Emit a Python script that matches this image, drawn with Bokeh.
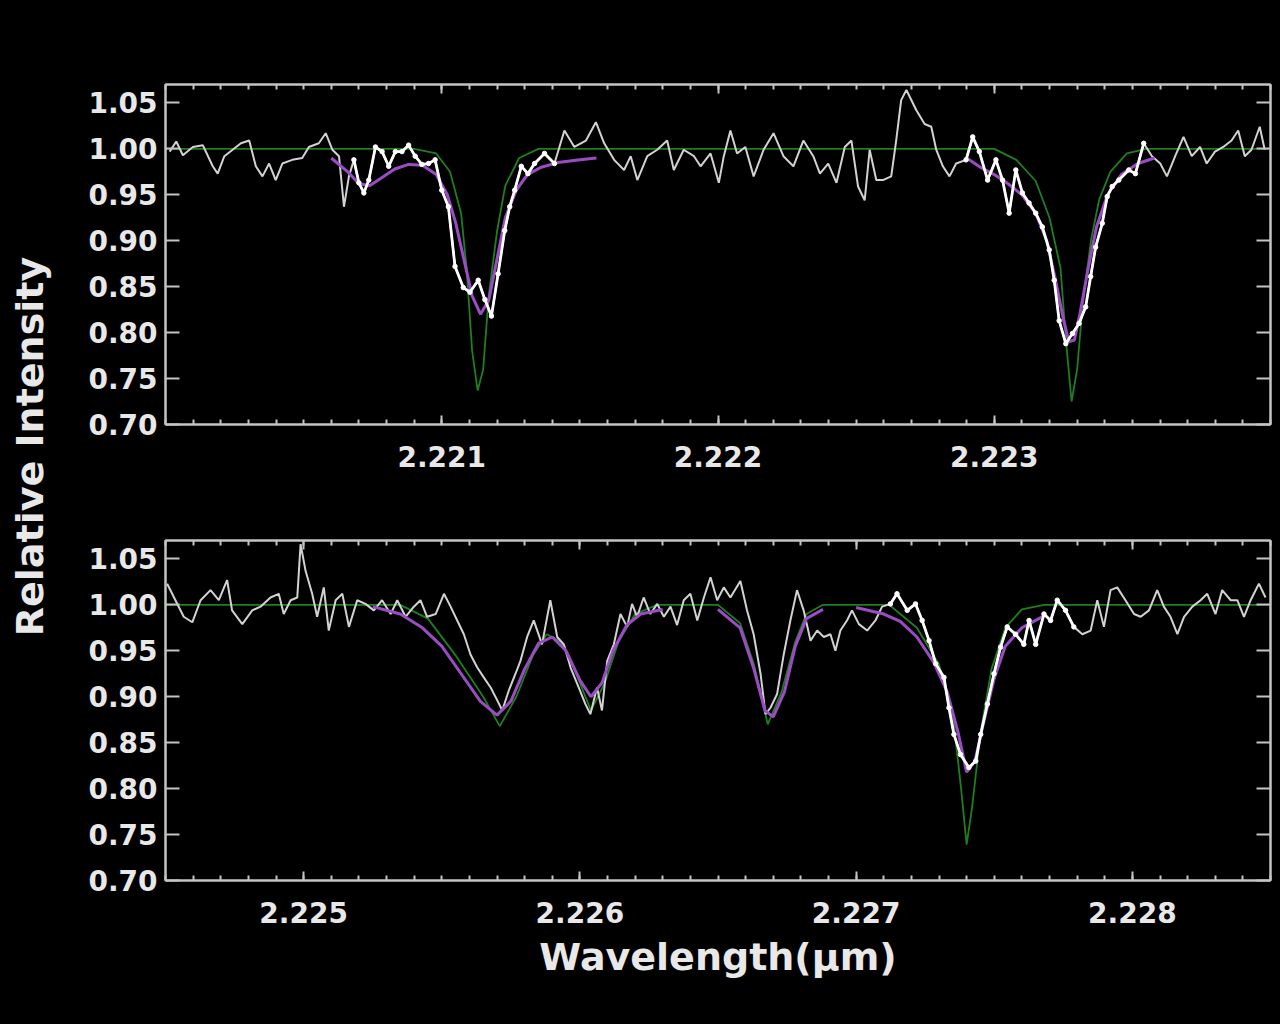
import numpy as np
from math import pi
from bokeh.plotting import figure
from bokeh.layouts import row, column
from bokeh.models import (FixedTicker, Range1d, LinearAxis, Label,
                          PrintfTickFormatter, CustomJSTickFormatter)
from bokeh.embed import file_html
from bokeh.resources import INLINE

# ---------------- data: top panel ----------------
top_wl = [2.220015, 2.220039, 2.220063, 2.220099, 2.220135, 2.220171, 2.220189, 2.220213,
          2.220243, 2.220273, 2.220303, 2.220327, 2.220351, 2.220375, 2.220399, 2.220423,
          2.220459, 2.220495, 2.220519, 2.220555, 2.220580, 2.220604, 2.220628, 2.220646,
          2.220664, 2.220682, 2.220700, 2.220718, 2.220736, 2.220760, 2.220784, 2.220808,
          2.220832, 2.220856, 2.220880, 2.220904, 2.220928, 2.220952, 2.220976, 2.221000,
          2.221024, 2.221048, 2.221078, 2.221102, 2.221132, 2.221156, 2.221180, 2.221204,
          2.221228, 2.221246, 2.221264, 2.221288, 2.221312, 2.221336, 2.221372, 2.221408,
          2.221444, 2.221480, 2.221522, 2.221558, 2.221588, 2.221624, 2.221660, 2.221684,
          2.221708, 2.221744, 2.221780, 2.221816, 2.221840, 2.221876, 2.221913, 2.221937,
          2.221973, 2.222003, 2.222021, 2.222045, 2.222069, 2.222099, 2.222129, 2.222165,
          2.222201, 2.222237, 2.222273, 2.222309, 2.222345, 2.222369, 2.222399, 2.222429,
          2.222459, 2.222483, 2.222507, 2.222531, 2.222549, 2.222573, 2.222597, 2.222627,
          2.222645, 2.222663, 2.222682, 2.222718, 2.222748, 2.222772, 2.222790, 2.222814,
          2.222838, 2.222862, 2.222898, 2.222922, 2.222946, 2.222976, 2.223006, 2.223030,
          2.223054, 2.223078, 2.223102, 2.223126, 2.223150, 2.223174, 2.223199, 2.223217,
          2.223235, 2.223259, 2.223283, 2.223307, 2.223331, 2.223349, 2.223367, 2.223391,
          2.223409, 2.223427, 2.223451, 2.223487, 2.223511, 2.223541, 2.223571, 2.223601,
          2.223625, 2.223655, 2.223685, 2.223715, 2.223745, 2.223769, 2.223799, 2.223829,
          2.223859, 2.223883, 2.223907, 2.223931, 2.223961, 2.223979]
top_flux = [0.997, 1.008, 0.993, 1.002, 1.004, 0.981, 0.973, 0.992,
            0.999, 1.006, 1.009, 0.981, 0.970, 0.984, 0.966, 0.984,
            0.988, 0.990, 1.002, 1.006, 1.017, 0.999, 0.992, 0.937,
            0.970, 0.988, 0.963, 0.952, 0.966, 1.002, 0.997, 0.981,
            0.997, 0.997, 1.004, 0.992, 0.983, 0.984, 0.988, 0.955,
            0.937, 0.872, 0.849, 0.844, 0.857, 0.836, 0.818, 0.864,
            0.911, 0.937, 0.955, 0.981, 0.973, 0.984, 0.995, 0.984,
            1.020, 1.002, 1.009, 1.029, 1.006, 0.988, 0.977, 0.992,
            0.966, 0.992, 0.999, 1.009, 0.977, 0.999, 0.992, 0.981,
            0.995, 0.963, 0.992, 1.020, 0.995, 1.002, 0.970, 0.999,
            1.017, 0.992, 0.981, 1.009, 0.992, 0.973, 0.984, 0.963,
            1.002, 1.009, 0.959, 0.944, 0.999, 0.966, 0.966, 0.970,
            1.009, 1.053, 1.064, 1.042, 1.027, 1.024, 0.999, 0.981,
            0.970, 0.984, 0.988, 1.013, 0.997, 0.966, 0.988, 0.966,
            0.930, 0.977, 0.952, 0.941, 0.930, 0.915, 0.890, 0.857,
            0.813, 0.788, 0.799, 0.810, 0.828, 0.861, 0.893, 0.919,
            0.948, 0.959, 0.966, 0.977, 0.973, 1.006, 0.992, 0.984,
            0.970, 0.992, 1.013, 0.992, 1.002, 0.984, 0.997, 1.002,
            1.009, 1.020, 0.992, 0.999, 1.024, 0.999]

top_model_wl = [2.2200, 2.22090, 2.22098, 2.22103, 2.22107, 2.22109, 2.22111, 2.22113,
                2.22115, 2.22117, 2.22120, 2.22123, 2.22128, 2.22135, 2.22300, 2.22308,
                2.22315, 2.22320, 2.22324, 2.22326, 2.22328, 2.22330, 2.22332, 2.22335,
                2.22338, 2.22342, 2.22348, 2.22355, 2.2240]
top_model = [1.000, 1.000, 0.995, 0.975, 0.930, 0.870, 0.780, 0.737,
             0.760, 0.840, 0.910, 0.960, 0.990, 1.000, 1.000, 0.988,
             0.965, 0.925, 0.870, 0.790, 0.725, 0.760, 0.830, 0.900,
             0.945, 0.975, 0.995, 1.000, 1.000]

top_fit1_wl = [2.22060, 2.22066, 2.22070, 2.22074, 2.22078, 2.22083, 2.22088, 2.22093,
               2.22098, 2.22102, 2.22105, 2.22108, 2.22111, 2.22114, 2.22117, 2.22120,
               2.22123, 2.22127, 2.22131, 2.22136, 2.22142, 2.22150, 2.22156]
top_fit1 = [0.990, 0.975, 0.962, 0.960, 0.968, 0.978, 0.983, 0.982,
            0.972, 0.950, 0.920, 0.880, 0.840, 0.820, 0.835, 0.880,
            0.925, 0.955, 0.972, 0.980, 0.985, 0.988, 0.990]
top_fit2_wl = [2.22290, 2.22295, 2.22300, 2.22305, 2.22310, 2.22315, 2.22319, 2.22322,
               2.22325, 2.22327, 2.22329, 2.22331, 2.22334, 2.22337, 2.22341, 2.22346,
               2.22352, 2.22358]
top_fit2 = [0.990, 0.980, 0.972, 0.962, 0.950, 0.930, 0.900, 0.860,
            0.815, 0.790, 0.792, 0.820, 0.870, 0.915, 0.950, 0.972,
            0.984, 0.990]
top_windows = [(2.22068, 2.22142), (2.22289, 2.22357)]

# ---------------- data: bottom panel ----------------
bot_wl = [2.224506, 2.224536, 2.224566, 2.224597, 2.224627, 2.224663, 2.224693, 2.224723,
          2.224741, 2.224778, 2.224814, 2.224844, 2.224880, 2.224910, 2.224928, 2.224953,
          2.224977, 2.224989, 2.225007, 2.225031, 2.225049, 2.225073, 2.225091, 2.225116,
          2.225140, 2.225164, 2.225194, 2.225224, 2.225254, 2.225284, 2.225315, 2.225339,
          2.225369, 2.225399, 2.225423, 2.225447, 2.225478, 2.225508, 2.225532, 2.225556,
          2.225580, 2.225604, 2.225628, 2.225652, 2.225677, 2.225701, 2.225719, 2.225743,
          2.225767, 2.225785, 2.225809, 2.225833, 2.225863, 2.225893, 2.225918, 2.225942,
          2.225966, 2.225996, 2.226020, 2.226038, 2.226062, 2.226080, 2.226099, 2.226123,
          2.226147, 2.226171, 2.226189, 2.226207, 2.226231, 2.226255, 2.226280, 2.226304,
          2.226328, 2.226352, 2.226376, 2.226400, 2.226425, 2.226449, 2.226473, 2.226497,
          2.226521, 2.226545, 2.226581, 2.226605, 2.226629, 2.226654, 2.226672, 2.226690,
          2.226714, 2.226738, 2.226762, 2.226786, 2.226810, 2.226835, 2.226859, 2.226883,
          2.226907, 2.226925, 2.226943, 2.226967, 2.226985, 2.227010, 2.227040, 2.227070,
          2.227094, 2.227124, 2.227148, 2.227185, 2.227215, 2.227239, 2.227264, 2.227288,
          2.227318, 2.227336, 2.227354, 2.227378, 2.227408, 2.227433, 2.227451, 2.227475,
          2.227499, 2.227523, 2.227547, 2.227577, 2.227607, 2.227626, 2.227650, 2.227680,
          2.227704, 2.227728, 2.227758, 2.227788, 2.227819, 2.227849, 2.227873, 2.227897,
          2.227921, 2.227945, 2.227975, 2.228006, 2.228030, 2.228060, 2.228090, 2.228114,
          2.228138, 2.228163, 2.228187, 2.228217, 2.228247, 2.228271, 2.228301, 2.228325,
          2.228356, 2.228380, 2.228404, 2.228428, 2.228458, 2.228482]
bot_flux = [1.023, 1.005, 0.987, 0.981, 1.005, 1.016, 1.005, 1.027,
            0.994, 0.979, 0.994, 0.998, 1.008, 1.012, 0.990, 1.005,
            1.008, 1.066, 1.037, 1.012, 0.987, 1.019, 0.972, 1.005,
            1.012, 0.976, 1.005, 1.001, 0.994, 1.005, 0.990, 1.005,
            0.987, 0.998, 1.005, 0.987, 0.990, 1.012, 0.998, 0.983,
            0.968, 0.946, 0.932, 0.921, 0.910, 0.896, 0.885, 0.907,
            0.925, 0.939, 0.965, 0.983, 0.957, 1.005, 0.965, 0.957,
            0.932, 0.910, 0.892, 0.881, 0.910, 0.885, 0.939, 0.957,
            0.990, 0.976, 1.001, 0.987, 1.008, 0.990, 1.001, 0.987,
            0.998, 0.978, 1.005, 1.012, 0.983, 1.008, 1.030, 1.005,
            1.019, 1.008, 1.026, 0.994, 0.968, 0.925, 0.881, 0.888,
            0.903, 0.946, 0.983, 1.016, 0.994, 0.961, 0.972, 0.965,
            0.968, 0.950, 0.972, 0.983, 0.994, 0.979, 0.972, 0.983,
            0.998, 1.001, 1.012, 0.994, 1.001, 0.983, 0.961, 0.936,
            0.921, 0.888, 0.859, 0.837, 0.823, 0.830, 0.859, 0.892,
            0.925, 0.954, 0.976, 0.968, 0.957, 0.983, 0.957, 0.990,
            0.983, 1.005, 0.994, 0.976, 0.968, 0.972, 1.005, 0.976,
            1.016, 1.019, 1.005, 0.990, 0.987, 0.994, 1.016, 0.998,
            0.987, 0.968, 0.987, 0.998, 1.005, 1.012, 0.990, 1.016,
            1.005, 1.005, 0.987, 1.005, 1.023, 1.008]

bot_model_wl = [2.2245, 2.22535, 2.22545, 2.22555, 2.22565, 2.22571, 2.22577, 2.22583,
                2.22588, 2.22593, 2.22598, 2.22604, 2.22609, 2.22614, 2.22620, 2.22628,
                2.22650, 2.22658, 2.22663, 2.22668, 2.22673, 2.22678, 2.22682, 2.22688,
                2.22712, 2.22722, 2.22730, 2.22735, 2.22738, 2.22740, 2.22742, 2.22745,
                2.22749, 2.22754, 2.22760, 2.22768, 2.2285]
bot_model = [1.000, 1.000, 0.985, 0.945, 0.900, 0.868, 0.900, 0.945,
             0.968, 0.960, 0.930, 0.885, 0.915, 0.960, 0.990, 1.000,
             1.000, 0.980, 0.935, 0.870, 0.905, 0.960, 0.990, 1.000,
             1.000, 0.975, 0.935, 0.880, 0.800, 0.739, 0.780, 0.860,
             0.930, 0.975, 0.995, 1.000, 1.000]

bot_fit1_wl = [2.22525, 2.22535, 2.22543, 2.22550, 2.22557, 2.22564, 2.22570, 2.22575,
               2.22580, 2.22585, 2.22590, 2.22595, 2.22600, 2.22604, 2.22608, 2.22612,
               2.22617, 2.22622, 2.22630]
bot_fit1 = [0.998, 0.990, 0.975, 0.955, 0.925, 0.895, 0.880, 0.895,
            0.930, 0.958, 0.965, 0.950, 0.918, 0.900, 0.915, 0.950,
            0.978, 0.990, 0.995]
bot_fit2_wl = [2.22650, 2.22658, 2.22663, 2.22667, 2.22670, 2.22674, 2.22678, 2.22682,
               2.22688]
bot_fit2 = [0.995, 0.975, 0.930, 0.885, 0.878, 0.905, 0.955, 0.985, 0.995]
bot_fit3_wl = [2.22700, 2.22710, 2.22716, 2.22722, 2.22728, 2.22733, 2.22737, 2.22740,
               2.22743, 2.22746, 2.22750, 2.22754, 2.22760, 2.22768]
bot_fit3 = [0.997, 0.990, 0.982, 0.965, 0.938, 0.905, 0.860, 0.818,
            0.830, 0.870, 0.920, 0.955, 0.975, 0.988]
bot_windows = [(2.22710, 2.22780)]

y_ticks = [0.70, 0.75, 0.80, 0.85, 0.90, 0.95, 1.00, 1.05]
top_x_ticks = [2.221, 2.222, 2.223]
bot_x_ticks = [2.225, 2.226, 2.227, 2.228]

# ---------------- styling ----------------
BG = "black"
AXC = "#c4c4c4"
TXT = "#e8e8e8"
FONT = "DejaVu Sans"
GREEN = "#1f7f1f"
PURPLE = "#9a4cc4"
GREY = "#d2d2d2"

LAB_W = 60
PANEL_W = 1220


def style_axis(ax, ticker, labels=True, xaxis=True, fmt=None):
    ax.ticker = ticker
    ax.axis_line_color = AXC
    ax.axis_line_width = 2
    ax.major_tick_line_color = AXC
    ax.major_tick_line_width = 2
    ax.minor_tick_line_color = AXC
    ax.minor_tick_line_width = 2
    ax.major_tick_out = 0
    ax.minor_tick_out = 0
    if xaxis:
        ax.major_tick_in = 9
        ax.minor_tick_in = 5
        ax.major_label_standoff = 21
    else:
        ax.major_tick_in = 14
        ax.minor_tick_in = 0
        ax.major_label_standoff = 8
    ax.major_label_text_font = FONT
    ax.major_label_text_font_style = "bold"
    ax.major_label_text_font_size = "28px"
    ax.major_label_text_color = TXT
    if labels:
        if fmt is not None:
            ax.formatter = fmt
    else:
        ax.formatter = CustomJSTickFormatter(code="return ''")
        ax.major_label_standoff = 0


def make_panel(xr, xticks, wl, flux, mwl, mflux, fits, windows, height, top_b, bot_b, xlabel=None):
    p = figure(width=PANEL_W, height=height, x_range=Range1d(xr[0], xr[1]),
               y_range=Range1d(0.70, 1.07), output_backend="svg", toolbar_location=None,
               background_fill_color=BG, border_fill_color=BG,
               outline_line_color=AXC, outline_line_width=2,
               min_border_left=105, min_border_right=10,
               min_border_top=top_b, min_border_bottom=bot_b)
    p.grid.visible = False
    minor = [round(xr[0] + k * 0.0001, 4) for k in range(int(round((xr[1] - xr[0]) / 0.0001)) + 1)]
    bottom_ax = p.xaxis[0]
    left_ax = p.yaxis[0]
    style_axis(bottom_ax, FixedTicker(ticks=xticks, minor_ticks=minor), labels=True, xaxis=True)
    style_axis(left_ax, FixedTicker(ticks=y_ticks, minor_ticks=[]), labels=True, xaxis=False,
               fmt=PrintfTickFormatter(format="%.2f"))
    if xlabel:
        bottom_ax.axis_label = xlabel
        bottom_ax.axis_label_text_font = FONT
        bottom_ax.axis_label_text_font_style = "bold"
        bottom_ax.axis_label_text_font_size = "38px"
        bottom_ax.axis_label_text_color = TXT
        bottom_ax.axis_label_standoff = 9
    top_ax = LinearAxis()
    style_axis(top_ax, FixedTicker(ticks=xticks, minor_ticks=minor), labels=False, xaxis=True)
    p.add_layout(top_ax, "above")
    right_ax = LinearAxis()
    style_axis(right_ax, FixedTicker(ticks=y_ticks, minor_ticks=[]), labels=False, xaxis=False)
    p.add_layout(right_ax, "right")

    p.line(mwl, mflux, line_color=GREEN, line_width=1.8)
    p.line(wl, flux, line_color=GREY, line_width=2)
    for fw, ff in fits:
        p.line(fw, ff, line_color=PURPLE, line_width=3)
    w = np.array(wl)
    f = np.array(flux)
    for a, b in windows:
        m = (w >= a) & (w <= b)
        p.line(w[m], f[m], line_color="white", line_width=2.8)
        p.scatter(w[m], f[m], size=4.5, color="white")
    return p


p1 = make_panel((2.2200, 2.2240), top_x_ticks, top_wl, top_flux, top_model_wl, top_model,
                [(top_fit1_wl, top_fit1), (top_fit2_wl, top_fit2)], top_windows,
                height=500, top_b=84, bot_b=76)
p2 = make_panel((2.2245, 2.2285), bot_x_ticks, bot_wl, bot_flux, bot_model_wl, bot_model,
                [(bot_fit1_wl, bot_fit1), (bot_fit2_wl, bot_fit2), (bot_fit3_wl, bot_fit3)],
                bot_windows, height=524, top_b=40, bot_b=144, xlabel="Wavelength(\u03bcm)")

lab = figure(width=LAB_W, height=1024, x_range=Range1d(0, LAB_W), y_range=Range1d(0, 1024),
             x_axis_type=None, y_axis_type=None, output_backend="svg", toolbar_location=None,
             background_fill_color=BG, border_fill_color=BG, outline_line_color=None,
             min_border=0)
lab.grid.visible = False
lab.add_layout(Label(x=29, y=1024 - 446, text="Relative Intensity", angle=pi / 2,
                     text_align="center", text_baseline="middle", text_font=FONT,
                     text_font_style="bold", text_font_size="38px", text_color=TXT))

layout = row(lab, column(p1, p2, spacing=0), spacing=0)
layout.styles = {"background-color": "black"}

open("out.html", "w").write(file_html(layout, INLINE))
